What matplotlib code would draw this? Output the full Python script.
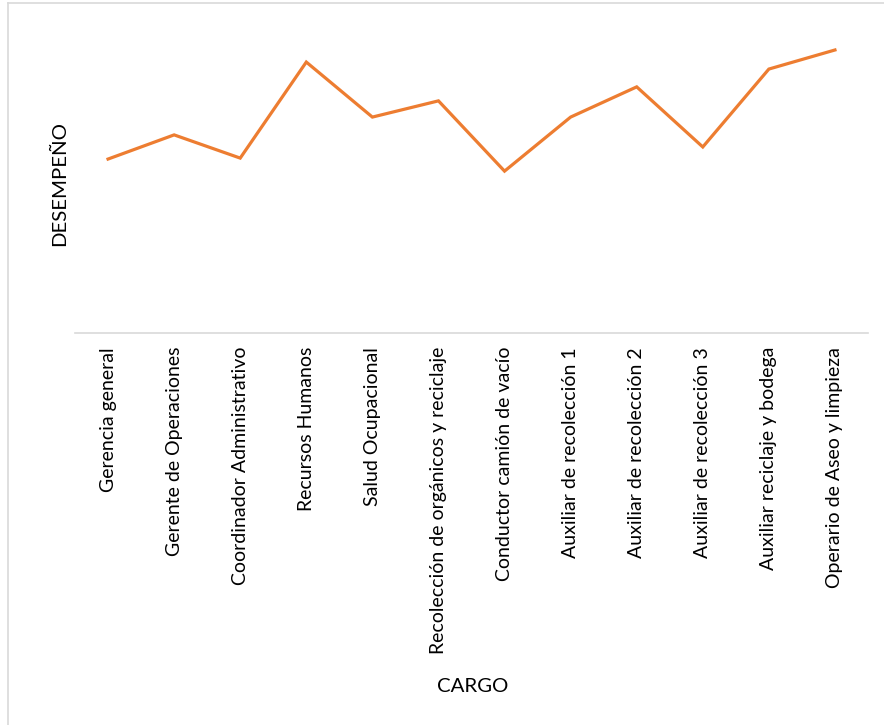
import matplotlib
matplotlib.use("Agg")
import matplotlib.pyplot as plt
from matplotlib.lines import Line2D

categories = ["Gerencia general", "Gerente de Operaciones", "Coordinador Administrativo",
              "Recursos Humanos", "Salud Ocupacional", "Recolección de orgánicos y reciclaje",
              "Conductor camión de vacío", "Auxiliar de recolección 1", "Auxiliar de recolección 2",
              "Auxiliar de recolección 3", "Auxiliar reciclaje y bodega", "Operario de Aseo y limpieza"]
desempeno = [54.7, 62.3, 55.0, 85.2, 67.9, 73.0, 50.9, 67.9, 77.4, 58.5, 83.0, 89.0]

plt.rcParams['font.family'] = ['Lato', 'DejaVu Sans']

fig = plt.figure(figsize=(8.84, 7.25), dpi=100)
ax = fig.add_axes([75/884, 1-333/725, (868-75)/884, (333-15)/725])
x = list(range(len(categories)))
ax.plot(x, desempeno, color="#ED7D31", lw=2.3, solid_joinstyle='miter')
ax.set_xlim(-0.5, len(categories)-0.5)
ax.set_ylim(0, 100)
for s in ["top", "right", "left"]:
    ax.spines[s].set_visible(False)
ax.spines["bottom"].set_color("#D9D9D9")
ax.spines["bottom"].set_linewidth(1.2)
ax.set_yticks([])
ax.set_xticks(x)
ax.set_xticklabels(categories, rotation=90, fontsize=14, color="#000000")
ax.tick_params(axis='x', length=0, pad=10)

fig.text(60/884, 1-184/725, "DESEMPEÑO", rotation=90, ha="center", va="center", fontsize=14.7)
fig.text(473/884, 1-686/725, "CARGO", ha="center", va="center", fontsize=14.7)

# chart border
fig.add_artist(Line2D([8/884, 8/884], [0, 1-3/725], color="#D9D9D9", lw=1.2, transform=fig.transFigure))
fig.add_artist(Line2D([8/884, 1], [1-3/725, 1-3/725], color="#D9D9D9", lw=1.2, transform=fig.transFigure))

fig.savefig("out.png", dpi=100)
